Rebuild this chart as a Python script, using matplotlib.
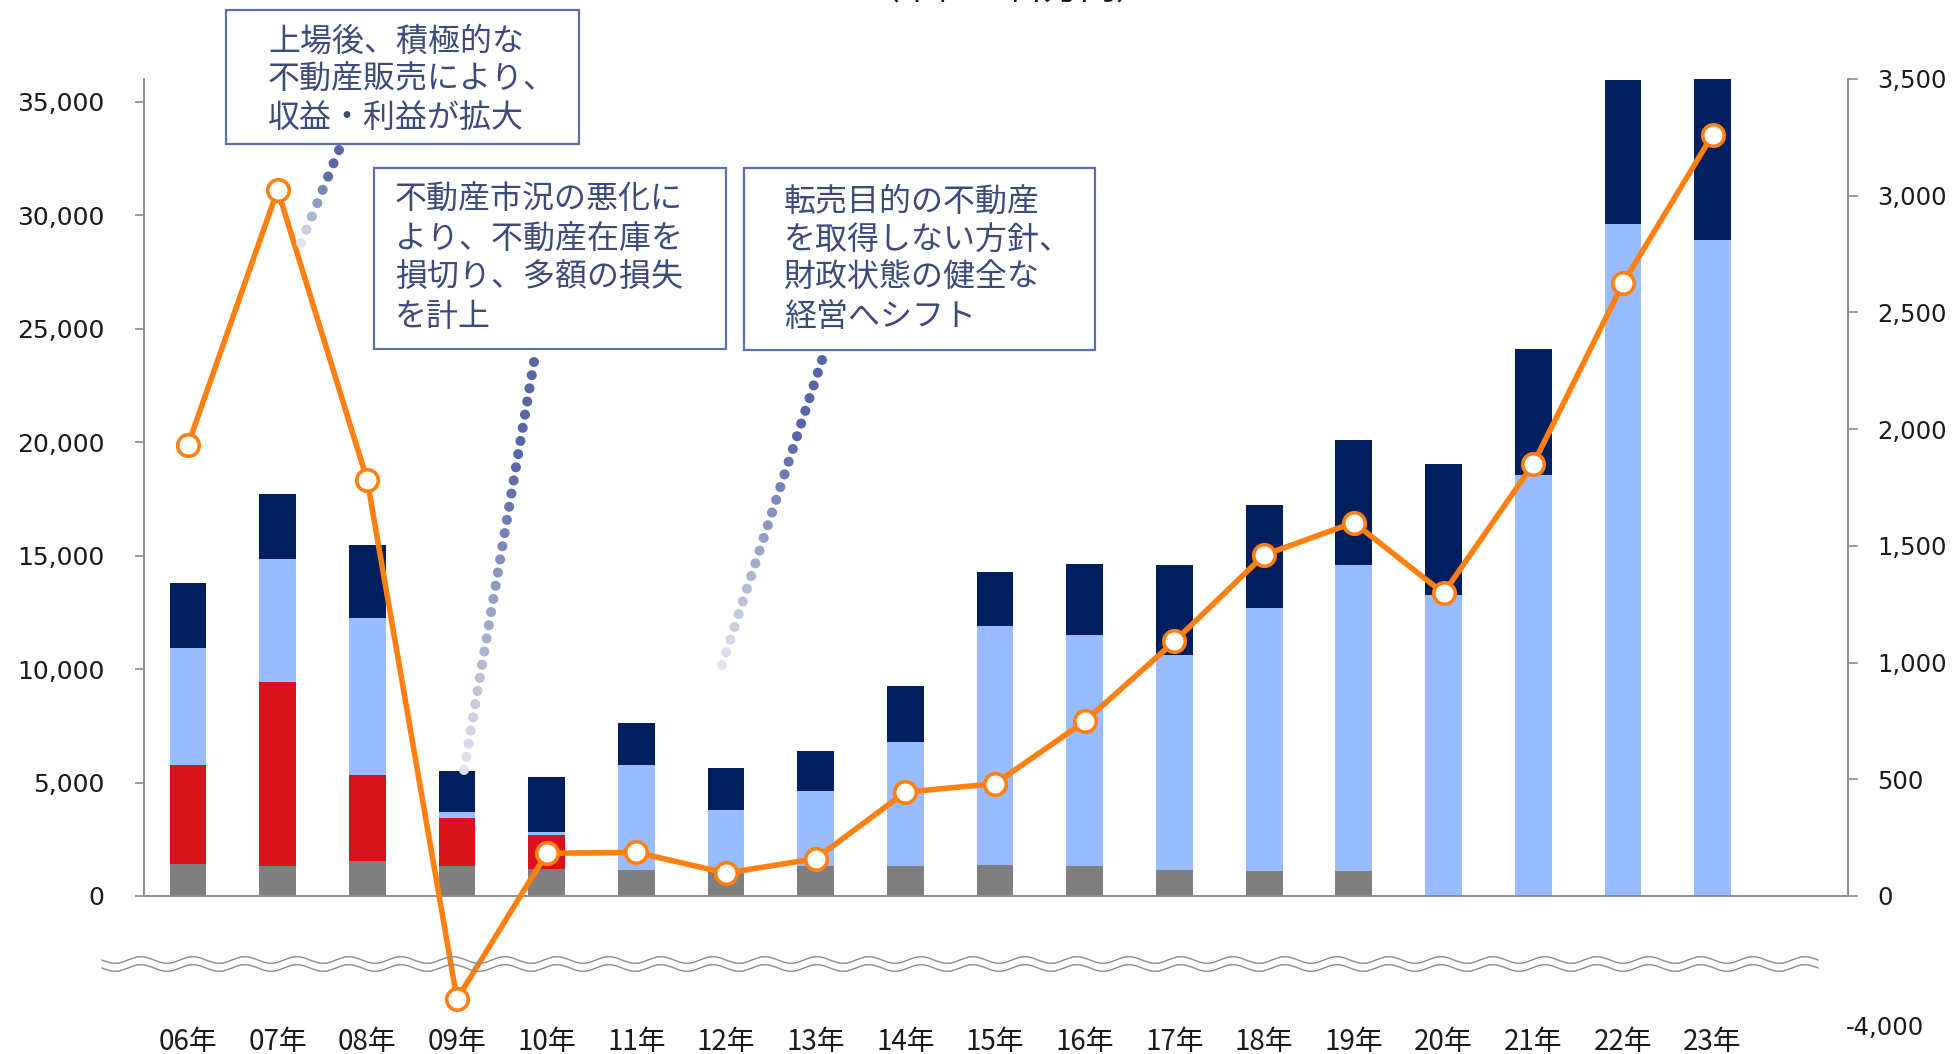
import numpy as np
import matplotlib
matplotlib.use("Agg")
import matplotlib.pyplot as plt
from matplotlib.patches import Rectangle
from matplotlib.lines import Line2D
from matplotlib.transforms import ScaledTranslation

plt.rcParams['font.family'] = ['DejaVu Sans', 'Noto Sans CJK JP']

# ---------------- data ----------------
years = ["06年", "07年", "08年", "09年", "10年", "11年", "12年", "13年", "14年",
         "15年", "16年", "17年", "18年", "19年", "20年", "21年", "22年", "23年"]
seg_gray = [1430, 1340, 1520, 1300, 1190, 1150, 1100, 1340, 1320,
            1360, 1340, 1140, 1120, 1100, 0, 0, 0, 0]
seg_red = [4340, 8090, 3810, 2120, 1500, 0, 0, 0, 0,
           0, 0, 0, 0, 0, 0, 0, 0, 0]
seg_lightblue = [5150, 5420, 6920, 260, 150, 4620, 2690, 3280, 5470,
                 10540, 10160, 9500, 11550, 13500, 13250, 18570, 29600, 28900]
seg_navy = [2890, 2860, 3210, 1810, 2400, 1850, 1870, 1750, 2480,
            2390, 3130, 3940, 4560, 5500, 5790, 5530, 6350, 7100]
profit = [1932, 3025, 1780, -3200, 183, 187, 98, 160, 445,
          481, 748, 1091, 1461, 1600, 1297, 1850, 2624, 3261]

left_ticks = [0, 5000, 10000, 15000, 20000, 25000, 30000, 35000]
right_ticks = [-4000, 0, 500, 1000, 1500, 2000, 2500, 3000, 3500]

box_texts = [
    ["上場後、積極的な", "不動産販売により、", "収益・利益が拡大"],
    ["不動産市況の悪化に", "より、不動産在庫を", "損切り、多額の損失", "を計上"],
    ["転売目的の不動産", "を取得しない方針、", "財政状態の健全な", "経営へシフト"],
]
top_note = "（単位：百万円）"

# ---------------- style ----------------
C_GRAY = "#7F7F7F"
C_RED = "#D7131B"
C_LBLUE = "#99BBFF"
C_NAVY = "#001F5F"
C_ORANGE = "#FF7F11"
C_AXIS = "#8C8C8C"
C_BOXEDGE = "#5B6EAE"
C_BOXTEXT = "#3D4B7C"

W, H = 1957, 1054
fig = plt.figure(figsize=(W / 100, H / 100), dpi=100)

def fx(px):
    return px / W

def fy(py):
    return 1 - py / H

AX_L, AX_R, AX_T, AX_B = 144, 1848, 79, 1028
ax = fig.add_axes([fx(AX_L), fy(AX_B), fx(AX_R) - fx(AX_L), fy(AX_T) - fy(AX_B)])
ax2 = ax.twinx()

x = np.arange(len(years))
width = 0.41

bottom = np.zeros(len(years))
for seg, col in [(seg_gray, C_GRAY), (seg_red, C_RED),
                 (seg_lightblue, C_LBLUE), (seg_navy, C_NAVY)]:
    vals = np.array(seg, dtype=float)
    ax.bar(x, vals, width, bottom=bottom, color=col, linewidth=0, zorder=2)
    bottom += vals

ax.axhline(0, color=C_AXIS, lw=1.4, zorder=3)

ax.set_xlim(-0.49, 18.51)
ax.set_ylim(-5817, 36000)
ax.set_yticks(left_ticks)
ax.set_yticklabels([f"{v:,}" for v in left_ticks], fontsize=18, color="#1a1a1a")
ax.tick_params(axis='y', direction='out', length=6.5, width=1.2, color=C_AXIS, pad=22)
ax.set_xticks(x)
ax.set_xticklabels(years, fontsize=20, color="#1a1a1a", family=['Noto Sans CJK JP'])
ax.tick_params(axis='x', length=0, pad=-1)
for s in ['top', 'bottom', 'right']:
    ax.spines[s].set_visible(False)
ax.spines['left'].set_bounds(0, 36000)
ax.spines['left'].set_color(C_AXIS)
ax.spines['left'].set_linewidth(1.4)

# right axis with compressed negative range (broken axis)
c = 0.13816
def fwd(y):
    y = np.asarray(y, dtype=float)
    return np.where(y >= 0, y, y * c)
def inv(y):
    y = np.asarray(y, dtype=float)
    return np.where(y >= 0, y, y / c)

ax2.set_yscale('function', functions=(fwd, inv))
ax2.set_ylim(-4093, 3500)
ax2.plot(x, profit, color=C_ORANGE, lw=4.0, marker='o', ms=15.5,
         mfc='white', mec=C_ORANGE, mew=2.6, zorder=5, clip_on=False)
ax2.set_yticks(right_ticks)
ax2.set_yticklabels([f"{v:,}" for v in right_ticks], fontsize=17.5, color="#1a1a1a")
ax2.tick_params(axis='y', direction='out', length=7, width=1.2, color=C_AXIS, pad=14)
ax2.yaxis.set_minor_locator(matplotlib.ticker.NullLocator())
for s in ['top', 'bottom', 'left']:
    ax2.spines[s].set_visible(False)
ax2.spines['right'].set_bounds(0, 3500)
ax2.spines['right'].set_color(C_AXIS)
ax2.spines['right'].set_linewidth(1.4)
t0 = ax2.yaxis.get_major_ticks()[0]
t0.tick2line.set_visible(False)
t0.label2.set_transform(t0.label2.get_transform() +
                        ScaledTranslation(-31 / 100, 0, fig.dpi_scale_trans))

# wavy break lines
xs = np.linspace(102, 1818, 3000)
for yc in (960, 968):
    ys = yc + 3.3 * np.sin(2 * np.pi * (xs - 102) / 52.0)
    fig.add_artist(Line2D(fx(xs), fy(ys), color="#8a8a8a", lw=1.0,
                          transform=fig.transFigure))

# annotation boxes
boxes = [(226, 10, 579, 144), (374, 168, 726, 349), (744, 168, 1095, 350)]
text_pos = [(268, [42, 80, 118]), (395, [200, 240, 278, 317]), (784, [202, 240, 278, 317])]
for (x0, y0, x1, y1), (tx, tys), lines in zip(boxes, text_pos, box_texts):
    fig.add_artist(Rectangle((fx(x0), fy(y1)), fx(x1) - fx(x0), fy(y0) - fy(y1),
                             transform=fig.transFigure, facecolor='white',
                             edgecolor=C_BOXEDGE, lw=1.6, zorder=10))
    for ty, ln in zip(tys, lines):
        fig.text(fx(tx), fy(ty), ln, fontsize=23, color=C_BOXTEXT, ha='left',
                 va='center', family=['Noto Sans CJK JP'], zorder=11)

# gradient dotted connectors
connectors = [((339, 150), (301, 243)), ((534, 362), (464, 770)), ((822, 360), (722, 665))]
dark = np.array(matplotlib.colors.to_rgb("#5866A6"))
light = np.array(matplotlib.colors.to_rgb("#E2E5EF"))
for (sx, sy), (ex, ey) in connectors:
    L = np.hypot(ex - sx, ey - sy)
    n = int(L // 13) + 1
    t = np.linspace(0, 1, n)
    px = sx + (ex - sx) * t
    py = sy + (ey - sy) * t
    k = np.clip((t - 0.25) / 0.75, 0, 1)[:, None]
    cols = dark * (1 - k) + light * k
    fig.add_artist(matplotlib.collections.PathCollection(
        [matplotlib.path.Path.unit_circle()], sizes=[13], offsets=np.column_stack([fx(px), fy(py)]),
        offset_transform=fig.transFigure, facecolors=cols, edgecolors='none',
        transform=matplotlib.transforms.IdentityTransform(), zorder=9))

# note at top (cut off by the figure edge, as in the reference)
fig.text(fx(1008), fy(-0.5), top_note, fontsize=26, color="#1a1a1a", ha='center',
         va='baseline', family=['Noto Sans CJK JP'])

fig.savefig("out.png", dpi=100)
